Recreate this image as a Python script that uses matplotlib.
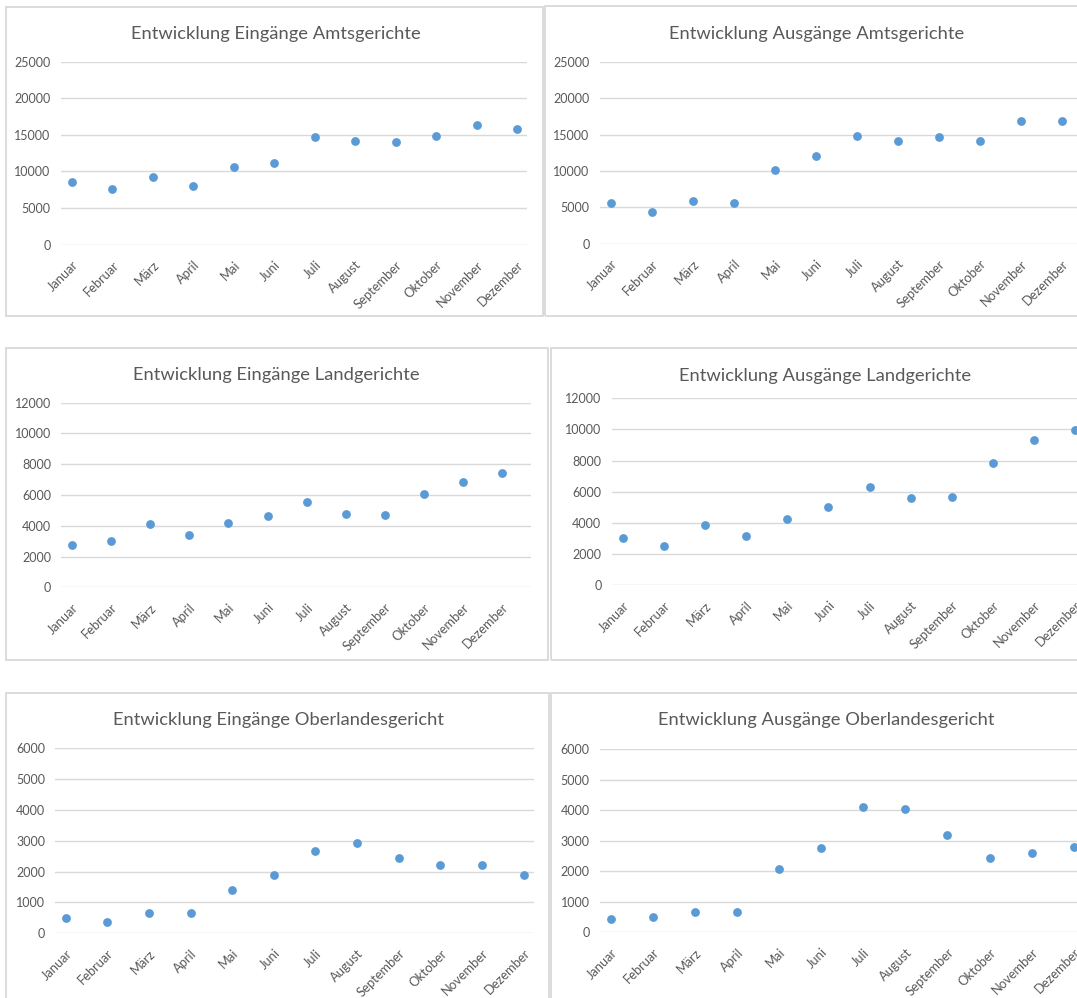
import matplotlib
matplotlib.use("Agg")
import matplotlib.pyplot as plt
from matplotlib.patches import Rectangle

plt.rcParams["font.family"] = ["Lato", "DejaVu Sans"]

# Monthly figures
months = ["Januar", "Februar", "März", "April", "Mai", "Juni", "Juli",
          "August", "September", "Oktober", "November", "Dezember"]

eingaenge_ag = [8600, 7550, 9200, 7970, 10560, 11200, 14750, 14200, 14030, 14890, 16350, 15750]
ausgaenge_ag = [5540, 4350, 5820, 5630, 10120, 12000, 14840, 14060, 14650, 14150, 16800, 16900]
eingaenge_lg = [2770, 2990, 4090, 3400, 4180, 4610, 5520, 4790, 4700, 6040, 6820, 7410]
ausgaenge_lg = [3020, 2500, 3850, 3170, 4260, 5050, 6330, 5600, 5690, 7850, 9330, 9970]
eingaenge_olg = [496, 367, 669, 669, 1392, 1878, 2676, 2935, 2428, 2201, 2223, 1899]
ausgaenge_olg = [436, 513, 676, 655, 2062, 2771, 4113, 4025, 3196, 2444, 2607, 2804]

titles = ["Entwicklung Eingänge Amtsgerichte", "Entwicklung Ausgänge Amtsgerichte",
          "Entwicklung Eingänge Landgerichte", "Entwicklung Ausgänge Landgerichte",
          "Entwicklung Eingänge Oberlandesgericht", "Entwicklung Ausgänge Oberlandesgericht"]
series = [eingaenge_ag, ausgaenge_ag, eingaenge_lg, ausgaenge_lg, eingaenge_olg, ausgaenge_olg]
y_max = [25000, 25000, 12000, 12000, 6000, 6000]
y_step = [5000, 5000, 2000, 2000, 1000, 1000]

W, H = 1077, 998
fig = plt.figure(figsize=(W / 100, H / 100), dpi=100)
fig.patch.set_facecolor("white")

# Panel geometry in pixels:
# frame (left, top, right, bottom), plot x-range, y of top / zero gridline,
# x of first / last category, title anchor (center x, baseline y)
panels = [
    dict(frame=(6.3, 7.3, 543, 315.5), gx=(60.8, 526.6), gy=(61.7, 244.7), cx=(72, 517), title=(275.5, 39.0)),
    dict(frame=(545, 6.0, 1100, 315.5), gx=(600, 1090), gy=(61.7, 243.7), cx=(611, 1062), title=(816.5, 38.5)),
    dict(frame=(6.3, 348.3, 548, 660), gx=(61.4, 531.4), gy=(402.7, 587.3), cx=(71.9, 502.3), title=(276.8, 380.0)),
    dict(frame=(551, 348.3, 1100, 660), gx=(611.8, 1090), gy=(398.3, 585.3), cx=(623, 1075), title=(824.6, 380.7)),
    dict(frame=(6.3, 693.3, 548.5, 1010), gx=(55.4, 533.6), gy=(748, 933.3), cx=(65.6, 523.7), title=(278.9, 724.5)),
    dict(frame=(551, 693.3, 1100, 1010), gx=(600, 1090), gy=(749, 932.3), cx=(611.2, 1073.6), title=(826, 725.0)),
]

text_color = "#595959"
grid_color = "#D9D9D9"
dot_color = "#5B9BD5"

for p, title, vals, ymax, step in zip(panels, titles, series, y_max, y_step):
    fl, ft, fr, fb = p["frame"]
    fig.add_artist(Rectangle((fl / W, 1 - fb / H), (fr - fl) / W, (fb - ft) / H,
                             transform=fig.transFigure, fill=False,
                             edgecolor=grid_color, linewidth=1.3))

    gl, gr = p["gx"]
    gt, g0 = p["gy"]
    ax = fig.add_axes([gl / W, 1 - g0 / H, (gr - gl) / W, (g0 - gt) / H])
    ax.set_facecolor("none")

    x0, x1 = p["cx"]
    unit = (x1 - x0) / (len(months) - 1)
    ax.set_xlim((gl - x0) / unit, (len(months) - 1) + (gr - x1) / unit)
    ax.set_ylim(0, ymax)

    ax.scatter(range(len(months)), vals, s=40, color=dot_color, linewidths=0,
               zorder=3, clip_on=False)

    ax.set_yticks(range(0, ymax + 1, step))
    ax.set_yticklabels([str(v) for v in range(0, ymax + 1, step)])
    ax.set_xticks(range(len(months)))
    ax.set_xticklabels(months, rotation=45, ha="right", va="top",
                       rotation_mode="anchor")
    ax.tick_params(axis="y", length=0, pad=7.5, labelsize=9.0, labelcolor=text_color)
    ax.tick_params(axis="x", length=0, pad=10, labelsize=9.3, labelcolor=text_color)
    ax.grid(axis="y", color=grid_color, linewidth=1.0)
    ax.set_axisbelow(True)
    for side in ax.spines.values():
        side.set_visible(False)

    tx, ty = p["title"]
    fig.text(tx / W, 1 - ty / H, title, ha="center", va="baseline",
             fontsize=13.2, color=text_color)

fig.savefig("out.png", dpi=100, facecolor="white")
